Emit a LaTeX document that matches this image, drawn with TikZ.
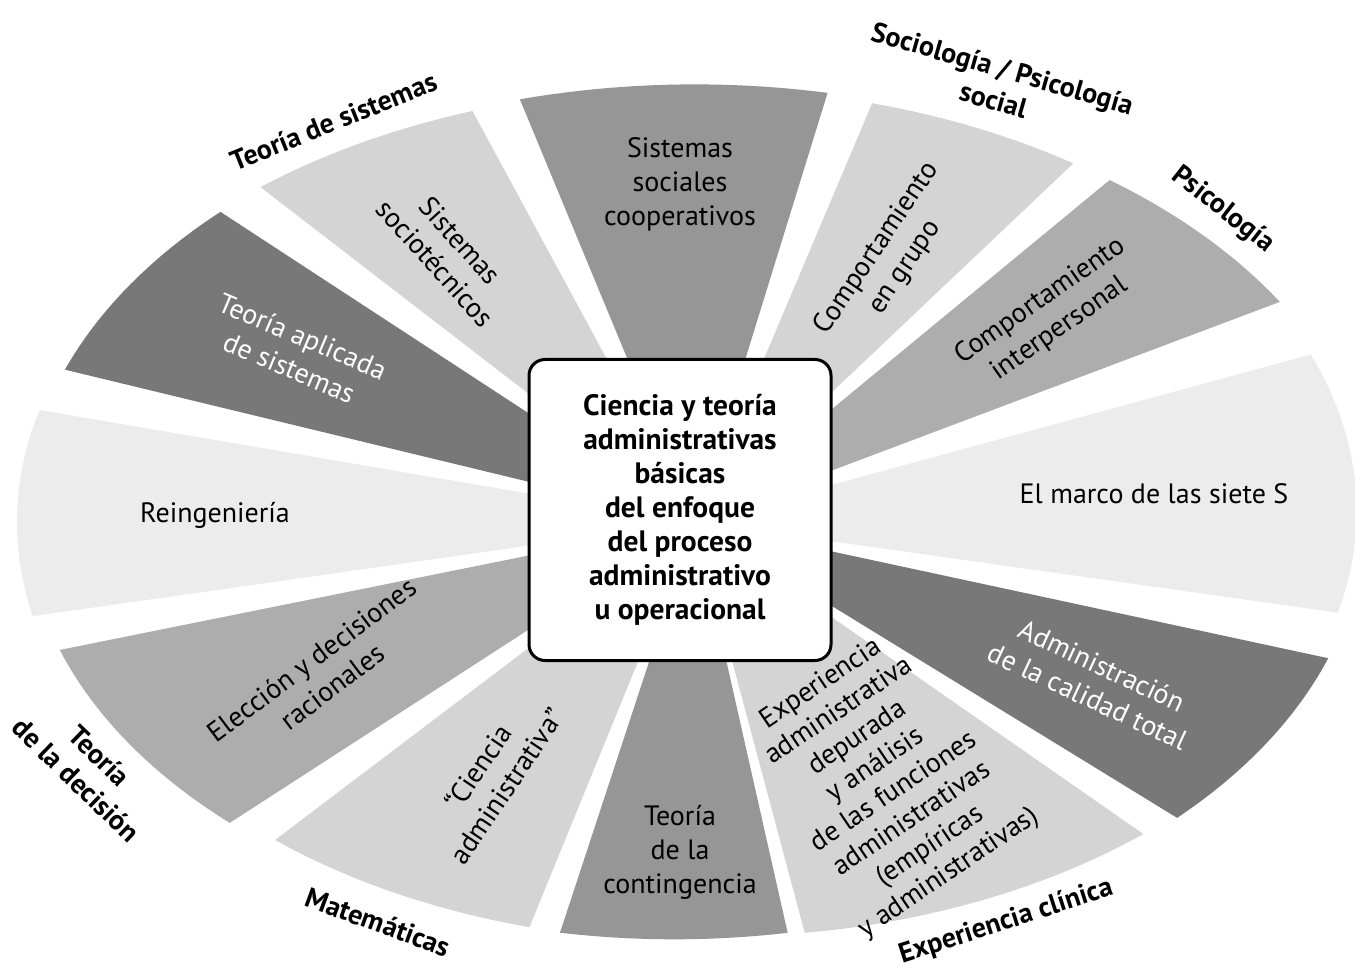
\documentclass[tikz,border=0pt]{standalone}
\usepackage{fontspec}
\setmainfont{PT Sans}
\definecolor{gA}{HTML}{969696}
\definecolor{gB}{HTML}{D4D4D4}
\definecolor{gC}{HTML}{ADADAD}
\definecolor{gD}{HTML}{ECECEC}
\definecolor{gE}{HTML}{787878}
% one wedge of the wheel: colour, start angle, start radius, end angle, end radius
\newcommand\wedgefill[5]{%
  \fill[#1] (c) -- plot[domain=#2:#4, samples=60]
    ({695+668*(#3+(#5-#3)*(\x-(#2))/((#4)-(#2)))*cos(\x)},
     {522-432*(#3+(#5-#3)*(\x-(#2))/((#4)-(#2)))*sin(\x)}) -- cycle;}
\begin{document}
\begin{tikzpicture}[x=1pt,y=-1pt,
  txt/.style={align=center, font=\fontsize{28}{34}\selectfont, inner sep=0pt},
  wtxt/.style={txt, text=white},
  lbl/.style={align=center, font=\bfseries\fontsize{28}{33}\selectfont, inner sep=0pt},
  core/.style={draw=black, line width=3pt, fill=white, rounded corners=16pt,
    minimum width=302pt, minimum height=301pt, align=center, inner sep=0pt,
    font=\bfseries\fontsize{29.5}{34}\selectfont}]
\useasboundingbox (0,0) rectangle (1355,973);
\fill[white] (0,0) rectangle (1355,973);
\coordinate (c) at (695,522);

% wedges, clockwise from the top
\wedgefill{gA}{78.7}{1.013}{105.0}{1.013}
\wedgefill{gB}{55.7}{1.005}{74.7}{1.005}
\wedgefill{gC}{30.2}{1.013}{51.9}{1.006}
\wedgefill{gD}{-12.3}{0.985}{22.8}{1.0}
\wedgefill{gE}{-43.5}{0.995}{-18.4}{0.999}
\wedgefill{gB}{-80.2}{0.965}{-47.1}{0.986}
\wedgefill{gA}{-102.0}{0.972}{-81.7}{0.961}
\wedgefill{gB}{229.5}{0.968}{255.2}{0.970}
\wedgefill{gC}{197.3}{0.996}{225.0}{0.985}
\wedgefill{gD}{165.2}{1.015}{192.4}{1.015}
\wedgefill{gE}{134.7}{1.01}{159.5}{1.007}
\wedgefill{gB}{109.3}{1.008}{130.0}{1.012}

% texts inside the wedges
\node[txt] (t1) at (680,184) {Sistemas\\sociales\\cooperativos};
\node[txt, rotate=56] (t2) at (891,258) {Comportamiento\\en grupo};
\node[txt, rotate=35] (t3) at (1050,315) {Comportamiento\\interpersonal};
\node[txt] (t4) at (1154,494) {El marco de las siete S};
\node[wtxt, rotate=-25] (t5) at (1095,681) {Administración\\de la calidad total};
\node[txt, rotate=34, font=\fontsize{28}{32.6}\selectfont] (t6) at (885,779) {Experiencia\\administrativa\\depurada\\y análisis\\de las funciones\\administrativas\\(empíricas\\y administrativas)};
\node[txt] (t7) at (680,852) {Teoría\\de la\\contingencia};
\node[txt, rotate=56] (t8) at (492,776) {“Ciencia\\administrativa”};
\node[txt, rotate=37] (t9) at (322,673) {Elección y decisiones\\racionales};
\node[txt] (t10) at (215,515) {Reingeniería};
\node[wtxt, rotate=-23] (t11) at (296,352) {Teoría aplicada\\de sistemas};
\node[txt, rotate=-48] (t12) at (448,252) {Sistemas\\sociotécnicos};

% discipline labels around the wheel
\node[lbl, rotate=22] (l1) at (334,121) {Teoría de sistemas};
\node[lbl, rotate=-16] (l2) at (998,84) {Sociología / Psicología\\social};
\node[lbl, rotate=-38] (l3) at (1223,210) {Psicología};
\node[lbl, rotate=18] (l4) at (1006,922) {Experiencia clínica};
\node[lbl, rotate=-20] (l5) at (378,922) {Matemáticas};
\node[lbl, rotate=-44] (l6) at (88,768) {Teoría\\de la decisión};

% central box
\node[core] (core) at (680,510) {Ciencia y teoría\\administrativas\\básicas\\del enfoque\\del proceso\\administrativo\\u operacional};
\end{tikzpicture}
\end{document}
